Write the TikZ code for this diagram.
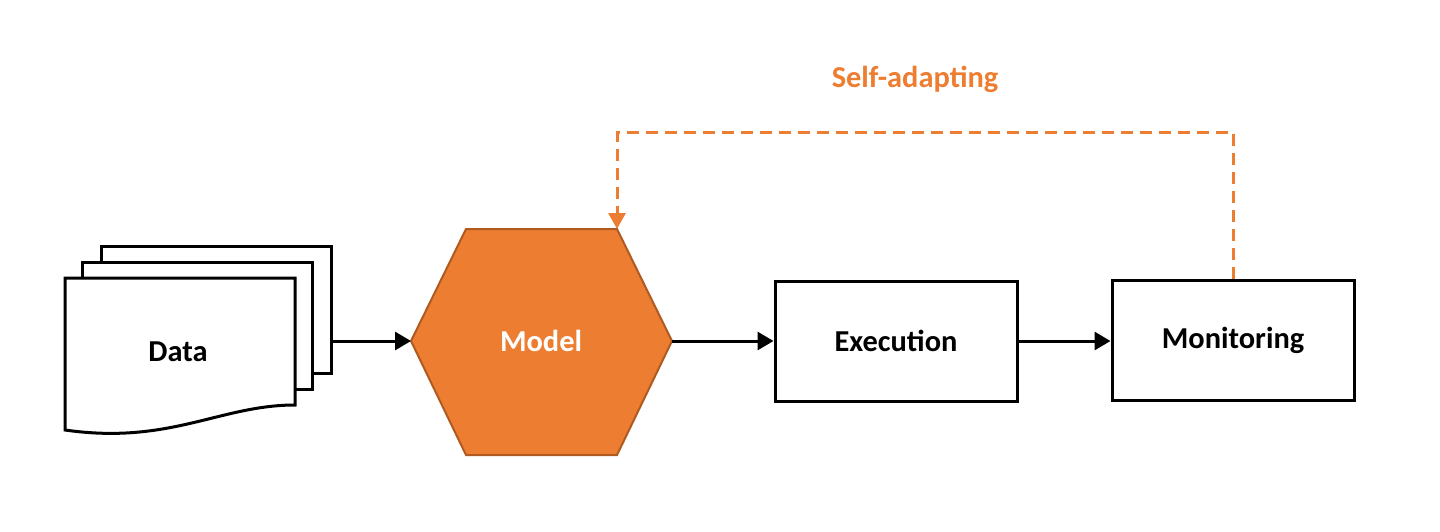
\documentclass[tikz,border=0pt]{standalone}
\usepackage{fontspec}
\setmainfont{Carlito}
\usetikzlibrary{arrows.meta}
\definecolor{orng}{HTML}{ED7D31}
\definecolor{orngdark}{HTML}{AE5A21}
\begin{document}
\begin{tikzpicture}[x=0.5pt,y=-0.5pt,
  lbl/.style={font=\fontsize{15.2}{18}\selectfont\bfseries, inner sep=0pt},
  page/.style={draw=black, line width=1.5pt, fill=white},
  pagebox/.style={page, rectangle, inner sep=0pt, minimum width=115pt, minimum height=63.5pt},
  procbox/.style={draw=black, line width=1.5pt, fill=white, rectangle, inner sep=0pt,
                  minimum width=121pt, minimum height=60pt, font=\fontsize{15.2}{18}\selectfont\bfseries},
  conn/.style={draw=black, line width=1.5pt, -{Triangle[length=8pt,width=9pt]}},
  fb/.style={draw=orng, line width=1.5pt, dash pattern=on 6pt off 3.5pt,
             -{Triangle[length=8pt,width=8.5pt,fill=orng]}}]
\useasboundingbox (0,0) rectangle (1440,531);
% Data stack
\node[pagebox] (pg3) at (216,309.5) {};
\node[pagebox] (pg2) at (197.5,325.5) {};
\draw[page] (65,278) -- (295,278) -- (295,405)
  .. controls (220,405) and (170,445) .. (65,430) -- cycle;
\node[lbl] (data) at (178,352) {Data};
% Model hexagon
\draw[fill=orng, draw=orngdark, line width=1pt]
  (466,229) -- (617,229) -- (672,341) -- (617,455) -- (466,455) -- (411,341) -- cycle;
\coordinate (hexL) at (411,341);
\coordinate (hexR) at (672,341);
\coordinate (hexTR) at (617,229);
\node[lbl, text=white] (model) at (541,341) {Model};
% Boxes
\node[procbox] (exec) at (896,341) {Execution};
\node[procbox] (mon) at (1233,340) {Monitoring};
% Connectors
\draw[conn] (pg3.east |- hexL) -- (hexL);
\draw[conn] (hexR) -- (exec.west);
\draw[conn] (exec.east) -- (mon.west |- exec.east);
% Feedback
\coordinate (fbtop) at (900,132);
\draw[fb] (mon.north) -- (mon.north |- fbtop) -- (hexTR |- fbtop) -- (hexTR);
\node[lbl, text=orng] (selfad) at (915,79) {Self-adapting};
\end{tikzpicture}
\end{document}
